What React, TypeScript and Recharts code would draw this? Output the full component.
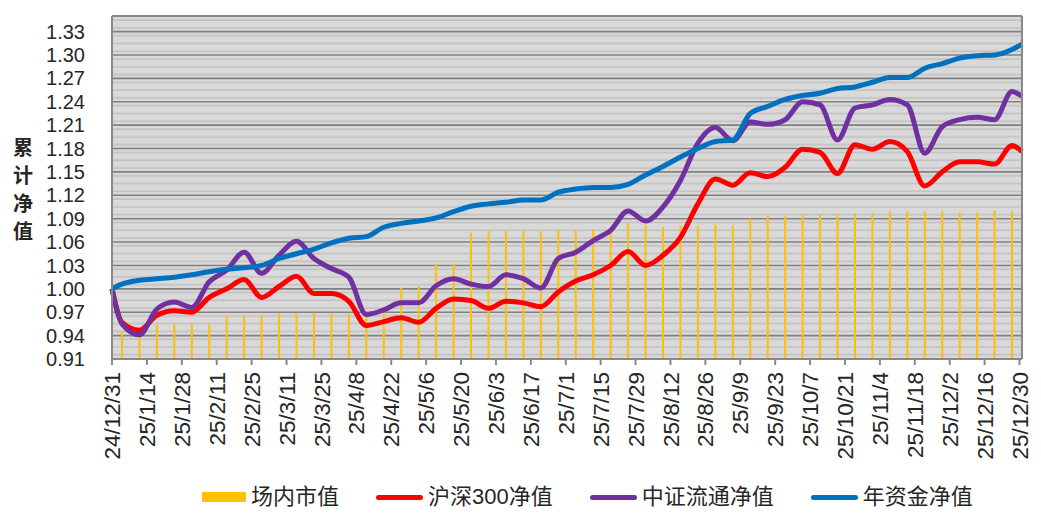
import React from "react";
import {
    ComposedChart, Bar, Line, XAxis, YAxis, CartesianGrid, ReferenceLine
} from "recharts";

// 周度日期（首尾为年初/年末）
const dates = [
    "2024-12-31",
    "2025-01-04", "2025-01-11", "2025-01-18", "2025-01-25",
    "2025-02-01", "2025-02-08", "2025-02-15", "2025-02-22",
    "2025-03-01", "2025-03-08", "2025-03-15", "2025-03-22", "2025-03-29",
    "2025-04-05", "2025-04-12", "2025-04-19", "2025-04-26",
    "2025-05-03", "2025-05-10", "2025-05-17", "2025-05-24", "2025-05-31",
    "2025-06-07", "2025-06-14", "2025-06-21", "2025-06-28",
    "2025-07-05", "2025-07-12", "2025-07-19", "2025-07-26",
    "2025-08-02", "2025-08-09", "2025-08-16", "2025-08-23", "2025-08-30",
    "2025-09-06", "2025-09-13", "2025-09-20", "2025-09-27",
    "2025-10-04", "2025-10-11", "2025-10-18", "2025-10-25",
    "2025-11-01", "2025-11-08", "2025-11-15", "2025-11-22", "2025-11-29",
    "2025-12-06", "2025-12-13", "2025-12-20", "2025-12-27",
    "2025-12-31",
];

// 场内市值（右轴，无刻度标签）
const marketValue = [
    0.78, 0.65, 0.70, 0.80, 0.83, 0.83, 0.83, 1.01, 1.01, 1.01,
    1.06, 1.06, 1.08, 1.06, 1.06, 1.04, 1.09, 1.66, 1.70, 2.22,
    2.22, 2.95, 2.98, 2.98, 2.98, 2.98, 3.02, 3.00, 3.03, 2.98,
    3.17, 3.13, 3.08, 3.11, 3.11, 3.13, 3.11, 3.27, 3.34, 3.34,
    3.37, 3.37, 3.37, 3.39, 3.39, 3.44, 3.44, 3.44, 3.44, 3.42,
    3.42, 3.46, 3.44, 3.44,
];

const hs300 = [
    1.000, 0.957, 0.947, 0.966, 0.972, 0.970, 0.989, 1.000, 1.012, 0.989,
    1.003, 1.016, 0.994, 0.994, 0.984, 0.953, 0.958, 0.963, 0.957, 0.975,
    0.987, 0.985, 0.975, 0.984, 0.982, 0.977, 0.996, 1.010, 1.018, 1.030,
    1.048, 1.030, 1.043, 1.066, 1.109, 1.141, 1.133, 1.149, 1.144, 1.156,
    1.179, 1.175, 1.148, 1.185, 1.179, 1.189, 1.176, 1.132, 1.150, 1.163,
    1.163, 1.160, 1.184, 1.176,
];

const csiFloat = [
    1.000, 0.955, 0.941, 0.974, 0.983, 0.976, 1.009, 1.024, 1.047, 1.020,
    1.043, 1.061, 1.039, 1.026, 1.015, 0.967, 0.973, 0.982, 0.982, 1.004,
    1.013, 1.006, 1.003, 1.018, 1.013, 1.001, 1.039, 1.047, 1.062, 1.075,
    1.100, 1.087, 1.105, 1.139, 1.187, 1.207, 1.190, 1.214, 1.211, 1.217,
    1.240, 1.236, 1.191, 1.232, 1.236, 1.243, 1.236, 1.174, 1.208, 1.217,
    1.220, 1.217, 1.253, 1.247,
];

const annuity = [
    1.000, 1.006, 1.011, 1.013, 1.015, 1.018, 1.022, 1.025, 1.027, 1.030,
    1.039, 1.045, 1.051, 1.059, 1.065, 1.067, 1.079, 1.084, 1.087, 1.091,
    1.099, 1.106, 1.109, 1.111, 1.114, 1.114, 1.124, 1.128, 1.130, 1.130,
    1.134, 1.146, 1.157, 1.169, 1.180, 1.189, 1.191, 1.225, 1.234, 1.243,
    1.248, 1.251, 1.257, 1.259, 1.265, 1.271, 1.271, 1.283, 1.289, 1.296,
    1.299, 1.300, 1.307, 1.314,
];

const xTickDates = [
    "2024-12-31", "2025-01-14", "2025-01-28", "2025-02-11", "2025-02-25",
    "2025-03-11", "2025-03-25", "2025-04-08", "2025-04-22", "2025-05-06",
    "2025-05-20", "2025-06-03", "2025-06-17", "2025-07-01", "2025-07-15",
    "2025-07-29", "2025-08-12", "2025-08-26", "2025-09-09", "2025-09-23",
    "2025-10-07", "2025-10-21", "2025-11-04", "2025-11-18", "2025-12-02",
    "2025-12-16", "2025-12-30",
];

const leftTicks = [0.91, 0.94, 0.97, 1.00, 1.03, 1.06, 1.09, 1.12, 1.15, 1.18, 1.21, 1.24, 1.27, 1.30, 1.33];
const rightTicks = [0, 1, 2, 3, 4, 5, 6, 7, 8];

const BASE = Date.parse("2024-12-31");
const DAY = 86400000;
const toDay = (s: string) => Math.round((Date.parse(s) - BASE) / DAY);
const fmtDay = (d: number) => {
    const dt = new Date(BASE + d * DAY);
    return `${String(dt.getUTCFullYear()).slice(2)}/${dt.getUTCMonth() + 1}/${dt.getUTCDate()}`;
};

const data = dates.map((s, i) => ({
    day: toDay(s),
    mv: marketValue[i],
    hs: hs300[i],
    csi: csiFloat[i],
    nj: annuity[i],
}));

const FONT = "'Liberation Sans', Arial, 'Noto Sans CJK SC', sans-serif";
const AXIS_GRAY = "#898989";
const TEXT = "#262626";

const DateTick = ({ x, y, payload }: any) => (
    <text
        x={x} y={y}
        transform={`rotate(-90, ${x}, ${y})`}
        textAnchor="end" dy="0.36em"
        fontSize={22.5} fill={TEXT} fontFamily={FONT}
    >
        {fmtDay(payload.value)}
    </text>
);

const legendItems = [
    { name: "场内市值", color: "#ffc000", type: "rect" },
    { name: "沪深300净值", color: "#ff0000", type: "line" },
    { name: "中证流通净值", color: "#7030a0", type: "line" },
    { name: "年资金净值", color: "#0070c0", type: "line" },
];

export default function App() {
    return (
        <div style={{ position: "relative", width: 1041, height: 515, background: "#fff", fontFamily: FONT }}>
            <style>{`body{margin:0;}`}</style>

            {/* 左侧轴标题 */}
            <div style={{
                position: "absolute", left: 12, top: 133, width: 22,
                display: "flex", flexDirection: "column", alignItems: "center",
                fontSize: 20, fontWeight: 700, lineHeight: "28px", color: TEXT,
                fontFamily: "'Noto Sans CJK SC', sans-serif"
            }}>
                {"累计净值".split("").map((c) => <span key={c}>{c}</span>)}
            </div>

            <ComposedChart
                width={1041} height={515} data={data}
                margin={{ top: 16, right: 9, bottom: 46, left: 0 }}
            >
                <defs>
                    <pattern id="stripes" patternUnits="userSpaceOnUse" x="0" y="31.7" width="10" height="7.78">
                        <rect x="0" y="0" width="10" height="7.78" fill="#d9d9d9" />
                        <rect x="0" y="3.4" width="10" height="1.3" fill="#bcbcbc" />
                    </pattern>
                </defs>
                <CartesianGrid
                    yAxisId="left" vertical={false}
                    stroke="#808080" strokeWidth={1.6}
                    fill="url(#stripes)" fillOpacity={1}
                />
                <XAxis
                    dataKey="day" type="number" domain={[0, 365]}
                    ticks={xTickDates.map(toDay)}
                    tick={<DateTick />}
                    tickSize={6} tickMargin={7}
                    stroke={AXIS_GRAY} strokeWidth={2}
                    height={110} interval={0}
                />
                <YAxis
                    yAxisId="left" domain={[0.91, 1.35]} ticks={leftTicks}
                    tickFormatter={(v: number) => v.toFixed(2)}
                    tick={{ fontSize: 20, fill: TEXT, fontFamily: FONT }}
                    tickLine={false} tickSize={6} tickMargin={21}
                    axisLine={{ stroke: AXIS_GRAY, strokeWidth: 2 }}
                    width={112} interval={0} allowDataOverflow
                />
                <YAxis
                    yAxisId="right" orientation="right" domain={[0, 8]} ticks={rightTicks}
                    tick={false} tickSize={6}
                    tickLine={{ stroke: AXIS_GRAY, strokeWidth: 1.5 }}
                    axisLine={{ stroke: AXIS_GRAY, strokeWidth: 2 }}
                    width={10} interval={0}
                />
                <ReferenceLine yAxisId="left" y={1.35} stroke={AXIS_GRAY} strokeWidth={2} />
                <Bar yAxisId="right" dataKey="mv" fill="#ffc000" barSize={2} isAnimationActive={false} />
                <Line yAxisId="left" type="monotone" dataKey="hs" stroke="#ff0000" strokeWidth={5} dot={false} isAnimationActive={false} />
                <Line yAxisId="left" type="monotone" dataKey="csi" stroke="#7030a0" strokeWidth={5} dot={false} isAnimationActive={false} />
                <Line yAxisId="left" type="monotone" dataKey="nj" stroke="#0070c0" strokeWidth={5} dot={false} isAnimationActive={false} />
            </ComposedChart>

            {/* 图例 */}
            <div style={{
                position: "absolute", left: 202, top: 483, height: 28,
                display: "flex", alignItems: "center", gap: 37,
                fontSize: 22, color: TEXT, whiteSpace: "nowrap"
            }}>
                {legendItems.map((it) => (
                    <div key={it.name} style={{ display: "flex", alignItems: "center", gap: 5 }}>
                        {it.type === "rect" ? (
                            <div style={{ width: 44, height: 10, background: it.color }} />
                        ) : (
                            <div style={{ width: 47, height: 5, borderRadius: 3, background: it.color }} />
                        )}
                        <span style={{ lineHeight: "28px" }}>{it.name}</span>
                    </div>
                ))}
            </div>
        </div>
    );
}
